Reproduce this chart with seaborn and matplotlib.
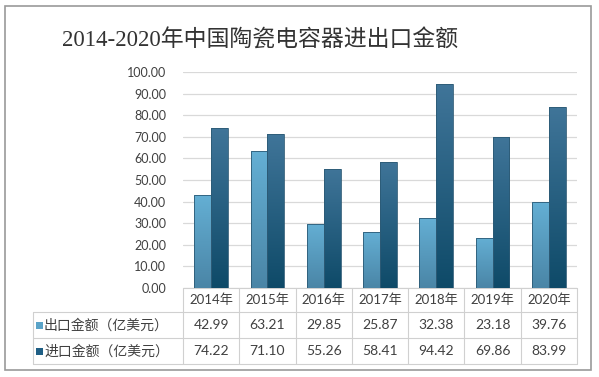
import numpy as np
import pandas as pd
import matplotlib
matplotlib.use("Agg")
import matplotlib.pyplot as plt
import seaborn as sns
from matplotlib.colors import LinearSegmentedColormap
from matplotlib.patches import Rectangle

# ---- data ----
years = ["2014年", "2015年", "2016年", "2017年", "2018年", "2019年", "2020年"]
series_names = ["出口金额（亿美元）", "进口金额（亿美元）"]
export_vals = [42.99, 63.21, 29.85, 25.87, 32.38, 23.18, 39.76]
import_vals = [74.22, 71.10, 55.26, 58.41, 94.42, 69.86, 83.99]
yticks = [0, 10, 20, 30, 40, 50, 60, 70, 80, 90, 100]
title = "2014-2020年中国陶瓷电容器进出口金额"

sns.set_theme(style="white")
plt.rcParams['font.family'] = ['Lato', 'Noto Sans CJK SC', 'DejaVu Sans']

df = pd.DataFrame({
    "year": years * 2,
    "series": [series_names[0]] * len(years) + [series_names[1]] * len(years),
    "value": export_vals + import_vals,
})

W, H = 599, 377
fig = plt.figure(figsize=(W / 100, H / 100), dpi=100)
fig.patch.set_facecolor("white")

ov = fig.add_axes([0, 0, 1, 1], zorder=0)
ov.set_xlim(0, W)
ov.set_ylim(H, 0)
ov.axis("off")

x0, x1 = 183, 577
ytop, ybot = 72, 288
ax = fig.add_axes([x0 / W, 1 - ybot / H, (x1 - x0) / W, (ybot - ytop) / H], zorder=2)
ax.patch.set_alpha(0)

pal = {series_names[0]: "#5aa3c8", series_names[1]: "#2f6a8e"}
sns.barplot(data=df, x="year", y="value", hue="series", order=years,
            hue_order=series_names, palette=pal, width=0.6, gap=0,
            legend=False, ax=ax, saturation=1, edgecolor="#2c5a75", linewidth=0.6)

ax.set_ylim(0, 100)
ax.set_xlim(-0.5, len(years) - 0.5)
ax.set_yticks(yticks)
ax.set_yticklabels([f"{v:.2f}" for v in yticks], fontsize=9, color="#404040")
ax.set_xticks([])
ax.set_xlabel("")
ax.set_ylabel("")
ax.tick_params(axis="y", length=0, pad=12)
ax.yaxis.grid(True, color="#d9d9d9", linewidth=0.9)
ax.set_axisbelow(True)
for s in ["top", "right", "left", "bottom"]:
    ax.spines[s].set_visible(False)

cm_light = LinearSegmentedColormap.from_list("l", ["#64afd4", "#4a85a6"])
cm_dark = LinearSegmentedColormap.from_list("d", ["#407599", "#0e4a68"])
grad = np.linspace(0, 1, 256).reshape(-1, 1)
n = len(years)
for i, p in enumerate(list(ax.patches)):
    bx, by = p.get_x(), p.get_y()
    bw, bh = p.get_width(), p.get_height()
    if bh <= 0:
        continue
    cmap = cm_light if i < n else cm_dark
    im = ax.imshow(grad, cmap=cmap, aspect="auto",
                   extent=[bx, bx + bw, by, by + bh], origin="upper", zorder=2)
    im.set_clip_path(p)
    p.set_facecolor("none")
    p.set_zorder(3)
ax.set_xlim(-0.5, len(years) - 0.5)
ax.set_ylim(0, 100)

ov.add_patch(Rectangle((5, 6), 586, 364, fill=False, edgecolor="#9a9a9a", linewidth=1.2))

ov.text(260, 40, title, ha="center", va="center", fontsize=16.5, color="#333333",
        family=["Liberation Serif", "Noto Sans CJK SC"])

lc = "#d0d0d0"
cw = (x1 - x0) / n
rows_y = [288, 312, 338, 364]
lab_x = 33
ov.plot([x0, x1], [rows_y[0], rows_y[0]], color=lc, lw=0.8)
for yy in rows_y[1:]:
    ov.plot([lab_x, x1], [yy, yy], color=lc, lw=0.8)
ov.plot([lab_x, lab_x], [rows_y[1], rows_y[3]], color=lc, lw=0.8)
for k in range(n + 1):
    xx = x0 + k * cw
    ov.plot([xx, xx], [rows_y[0], rows_y[3]], color=lc, lw=0.8)

tc = "#404040"
for k, yname in enumerate(years):
    cx = x0 + (k + 0.5) * cw
    ov.text(cx, (rows_y[0] + rows_y[1]) / 2, yname, ha="center", va="center", fontsize=9.5, color=tc)
    ov.text(cx, (rows_y[1] + rows_y[2]) / 2, f"{export_vals[k]:.2f}", ha="center", va="center", fontsize=10, color=tc)
    ov.text(cx, (rows_y[2] + rows_y[3]) / 2, f"{import_vals[k]:.2f}", ha="center", va="center", fontsize=10, color=tc)

sq_cols = ["#5aa3c8", "#1f5f85"]
for r, name in enumerate(series_names):
    cy = (rows_y[r + 1] + rows_y[r + 2]) / 2
    ov.add_patch(Rectangle((36, cy - 3.5), 7, 7, facecolor=sq_cols[r], edgecolor="none"))
    ov.text(44, cy, name, ha="left", va="center", fontsize=10, color=tc)

fig.savefig("out.png", dpi=100)
